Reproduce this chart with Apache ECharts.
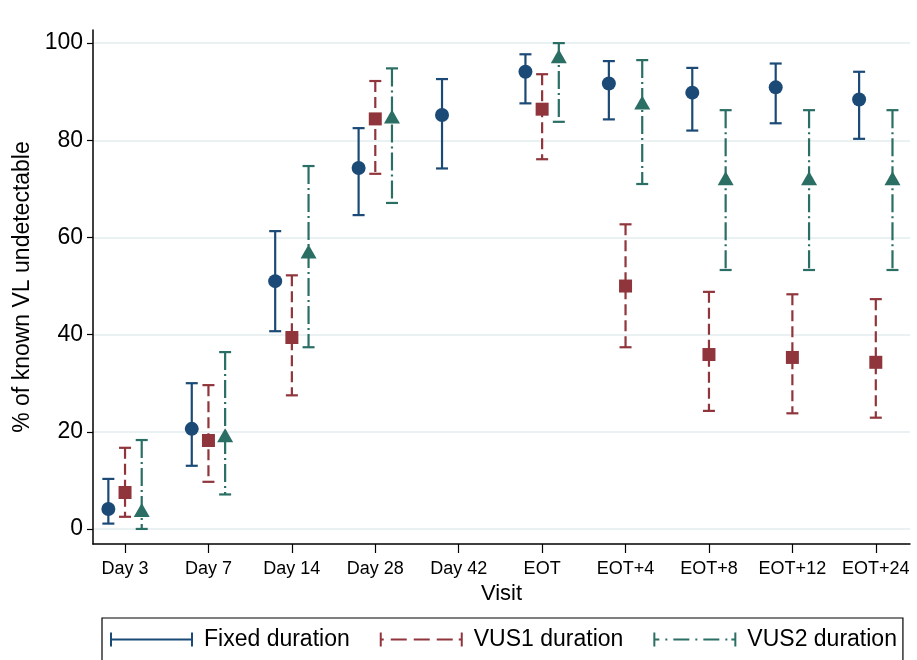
<!DOCTYPE html>
<html>
<head>
<meta charset="utf-8">
<script src="https://cdn.jsdelivr.net/npm/echarts@6/dist/echarts.min.js"></script>
<style>
  html, body { margin: 0; padding: 0; background: #fff; }
  #chart { width: 917px; height: 660px; }
</style>
</head>
<body>
<div id="chart"></div>
<script>
var categories = ['Day 3', 'Day 7', 'Day 14', 'Day 28', 'Day 42', 'EOT', 'EOT+4', 'EOT+8', 'EOT+12', 'EOT+24'];
var yTicks = [0, 20, 40, 60, 80, 100];

// point estimate, lower and upper CI (null = not shown)
var fixedMid  = [4.1, 20.6, 51.0, 74.3, 85.2, 94.1, 91.7, 89.8, 90.9, 88.4];
var fixedLow  = [1.1, 13.0, 40.7, 64.6, 74.2, 87.6, 84.3, 82.0, 83.5, 80.3];
var fixedHigh = [10.3, 30.0, 61.3, 82.5, 92.6, 97.7, 96.3, 94.9, 95.8, 94.1];

var vus1Mid  = [7.5, 18.2, 39.4, 84.4, null, 86.4, 50.0, 35.9, 35.3, 34.3];
var vus1Low  = [2.5, 9.7, 27.5, 73.1, null, 76.1, 37.4, 24.3, 23.8, 22.9];
var vus1High = [16.7, 29.6, 52.2, 92.2, null, 93.6, 62.7, 48.8, 48.3, 47.3];

var vus2Mid  = [3.9, 19.3, 57.1, 84.9, null, 97.3, 87.8, 72.2, 72.2, 72.2];
var vus2Low  = [0, 7.1, 37.4, 67.1, null, 83.8, 71.0, 53.3, 53.3, 53.3];
var vus2High = [18.3, 36.4, 74.7, 94.8, null, 100, 96.5, 86.2, 86.2, 86.2];

var NAVY = '#1b4a76';
var MAROON = '#8f353b';
var TEAL = '#2a6e64';
var FONT = '"Liberation Sans", Arial, sans-serif';

function barData(low, high, shift) {
    var out = [];
    for (var i = 0; i < categories.length; i++) {
        if (low[i] == null) continue;
        out.push([i + 1 + shift, low[i], high[i]]);
    }
    return out;
}
function pointData(mid, shift) {
    var out = [];
    for (var i = 0; i < categories.length; i++) {
        if (mid[i] == null) continue;
        out.push([i + 1 + shift, mid[i]]);
    }
    return out;
}

function errorBar(dash) {
    return function (params, api) {
        var x = api.value(0);
        var lo = api.coord([x, api.value(1)]);
        var hi = api.coord([x, api.value(2)]);
        var w = 6;
        var color = api.visual('color');
        var cap = { stroke: color, lineWidth: 2.2, fill: null };
        return {
            type: 'group',
            children: [
                { type: 'line', shape: { x1: hi[0], y1: hi[1], x2: lo[0], y2: lo[1] },
                  style: { stroke: color, lineWidth: 2.2, fill: null, lineDash: dash } },
                { type: 'line', shape: { x1: lo[0] - w, y1: lo[1], x2: lo[0] + w, y2: lo[1] }, style: cap },
                { type: 'line', shape: { x1: hi[0] - w, y1: hi[1], x2: hi[0] + w, y2: hi[1] }, style: cap }
            ]
        };
    };
}

var icons = {
    fixed: 'path://M0,0h2v14h-2z M81,0h2v14h-2z M0,6h83v2h-83z',
    vus1: 'path://M0,0h2v14h-2z M81,0h2v14h-2z M0,6h4v2h-4z M11,6h16v2h-16z M34,6h16v2h-16z M57,6h16v2h-16z M79,6h4v2h-4z',
    vus2: 'path://M0,0h2v14h-2z M81,0h2v14h-2z M0,6h6v2h-6z M12,6h2v2h-2z M20,6h16v2h-16z M42,6h2v2h-2z M50,6h16v2h-16z M72,6h2v2h-2z M78,6h5v2h-5z'
};

var chart = echarts.init(document.getElementById('chart'));
var option = {
    backgroundColor: '#fff',
    animation: false,
    grid: { left: 93, right: 7, top: 30, bottom: 116 },
    xAxis: {
        type: 'value',
        min: 0.616,
        max: 10.41,
        name: 'Visit',
        nameLocation: 'middle',
        nameGap: 38,
        nameTextStyle: { color: '#000', fontSize: 22, fontFamily: FONT },
        axisLine: { show: true, onZero: false, lineStyle: { color: '#000', width: 1.5 } },
        axisTick: { show: true, length: 9, customValues: [1, 2, 3, 4, 5, 6, 7, 8, 9, 10], lineStyle: { color: '#000', width: 1.2 } },
        axisLabel: {
            customValues: [1, 2, 3, 4, 5, 6, 7, 8, 9, 10],
            margin: 16,
            color: '#000',
            fontSize: 18,
            fontFamily: FONT,
            formatter: function (v) { return categories[Math.round(v) - 1]; }
        },
        splitLine: { show: false }
    },
    yAxis: {
        type: 'value',
        min: -3.1,
        max: 102.7,
        name: '% of known VL undetectable',
        nameLocation: 'middle',
        nameGap: 58,
        nameTextStyle: { color: '#000', fontSize: 23, fontFamily: FONT },
        axisLine: { show: true, onZero: false, lineStyle: { color: '#000', width: 1.5 } },
        axisTick: { show: true, length: 6, customValues: yTicks, lineStyle: { color: '#000', width: 1.2 } },
        axisLabel: { customValues: yTicks, margin: 10, color: '#000', fontSize: 23, fontFamily: FONT },
        splitLine: { show: true, lineStyle: { color: '#eaf1f3', width: 2 } }
    },
    legend: {
        left: 102,
        top: 618,
        padding: [10, 6, 30, 8],
        borderColor: '#000',
        borderWidth: 1.2,
        itemWidth: 83,
        itemHeight: 14,
        itemGap: 30,
        symbolKeepAspect: false,
        textStyle: { color: '#000', fontSize: 23, fontFamily: FONT, padding: [0, 0, 0, 6] },
        data: [
            { name: 'Fixed duration', icon: icons.fixed },
            { name: 'VUS1 duration', icon: icons.vus1 },
            { name: 'VUS2 duration', icon: icons.vus2 }
        ]
    },
    series: [
        { name: 'Fixed duration', type: 'custom', renderItem: errorBar(null), itemStyle: { color: NAVY },
          encode: { x: 0, y: [1, 2] }, data: barData(fixedLow, fixedHigh, -0.2), z: 2 },
        { name: 'VUS1 duration', type: 'custom', renderItem: errorBar([11, 5]), itemStyle: { color: MAROON },
          encode: { x: 0, y: [1, 2] }, data: barData(vus1Low, vus1High, 0), z: 2 },
        { name: 'VUS2 duration', type: 'custom', renderItem: errorBar([18, 4, 2, 4]), itemStyle: { color: TEAL },
          encode: { x: 0, y: [1, 2] }, data: barData(vus2Low, vus2High, 0.2), z: 2 },
        { name: 'fixedPt', type: 'scatter', symbol: 'circle', symbolSize: 14,
          itemStyle: { color: NAVY, opacity: 1 }, data: pointData(fixedMid, -0.2), z: 3 },
        { name: 'vus1Pt', type: 'scatter', symbol: 'rect', symbolSize: 13,
          itemStyle: { color: MAROON, opacity: 1 }, data: pointData(vus1Mid, 0), z: 3 },
        { name: 'vus2Pt', type: 'scatter', symbol: 'triangle', symbolSize: [16, 14],
          itemStyle: { color: TEAL, opacity: 1 }, data: pointData(vus2Mid, 0.2), z: 3 }
    ]
};
chart.setOption(option);
</script>
</body>
</html>
